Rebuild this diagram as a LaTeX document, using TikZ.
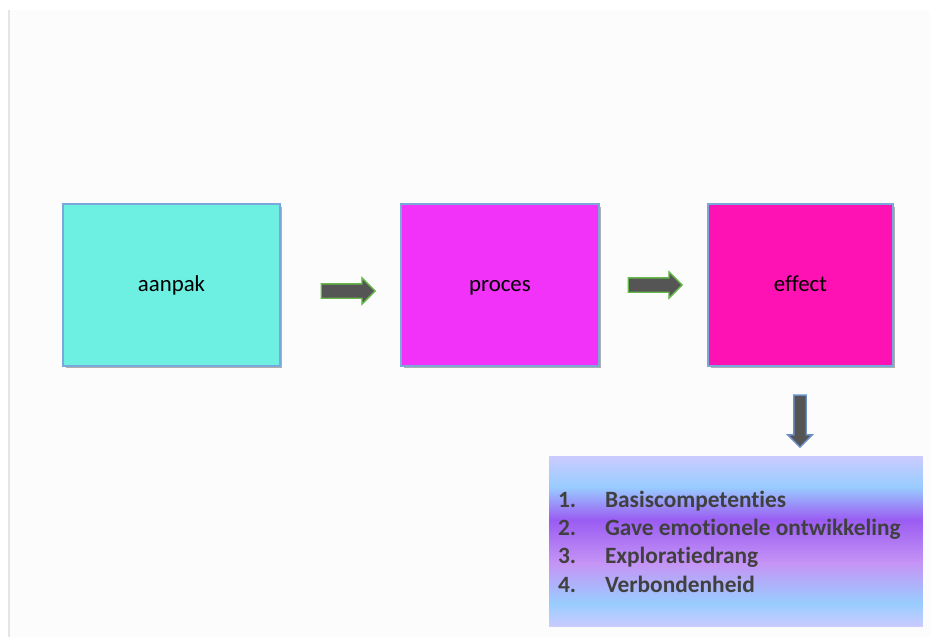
\documentclass[tikz,border=0pt]{standalone}
\usepackage{fontspec}
\setmainfont[Ligatures={NoCommon,NoRequired,NoContextual,NoRare}]{Carlito}
\usepackage{tikz}
\usepackage{xcolor}
\usetikzlibrary{shapes.arrows, positioning, shadows}
\definecolor{turquoise}{RGB}{109,240,226}
\definecolor{procesmagenta}{RGB}{242,50,248}
\definecolor{effectpink}{RGB}{255,18,179}
\definecolor{boxline}{RGB}{123,167,218}
\definecolor{arrowgray}{RGB}{85,85,85}
\definecolor{arrowgreen}{RGB}{102,184,74}
\definecolor{arrowblue}{RGB}{106,144,200}
\definecolor{listgray}{RGB}{64,64,64}
\definecolor{lavender}{RGB}{203,203,255}
\definecolor{skyblue}{RGB}{153,204,255}
\definecolor{violet}{RGB}{154,92,242}
\definecolor{lilac}{RGB}{197,148,245}
\pgfdeclareverticalshading{listshade}{100bp}{color(0bp)=(lavender); color(25bp)=(lavender);
  color(32bp)=(skyblue); color(43.7bp)=(lilac); color(56.3bp)=(violet);
  color(66bp)=(skyblue); color(75bp)=(lavender); color(100bp)=(lavender)}

\begin{document}
\begin{tikzpicture}[x=0.02cm, y=-0.02cm,
    stagebox/.style={draw=boxline, line width=0.6pt, minimum height=3.24cm,
      font=\fontsize{13}{16}\selectfont, text height=10.5pt, text depth=3pt,
      drop shadow={shadow xshift=0.05cm, shadow yshift=-0.05cm, fill=black, opacity=0.3}},
    rightarrow/.style={single arrow, fill=arrowgray, draw=arrowgreen, line width=0.8pt,
      inner xsep=0pt, inner ysep=0.13cm, minimum height=1.08cm, minimum width=0.5cm,
      single arrow head extend=0.12cm},
    listbox/.style={shading=listshade, minimum width=7.48cm, minimum height=3.42cm,
      text width=7.12cm, align=flush left, inner xsep=0.18cm, text=listgray,
      font=\bfseries\fontsize{13.3}{16.1}\selectfont}]
  \useasboundingbox (0,0) rectangle (930,637);
  \fill[black!1] (9,10) rectangle (930,637);
  \draw[black!10, line width=1pt] (9,10) -- (9,637);

  \node[stagebox, fill=turquoise, minimum width=4.34cm] (aanpak) at (171.5,285) {aanpak};
  \node[stagebox, fill=procesmagenta, minimum width=3.96cm, right=2.4cm of aanpak] (proces) {proces};
  \node[stagebox, fill=effectpink, minimum width=3.7cm, right=2.16cm of proces] (effect) {effect};

  \node[rightarrow, right=0.8cm of aanpak, yshift=-0.12cm] (pijl1) {};
  \node[rightarrow, right=0.56cm of proces] (pijl2) {};
  \node[rightarrow, draw=arrowblue, shape border rotate=270, inner sep=0.11cm,
    minimum height=1.04cm, minimum width=0.44cm] (pijl3) at (800,418) {};

  \node[listbox] (uitkomst) at (736,541.5) {%
    \makebox[0.94cm][l]{1.}Basiscompetenties\\
    \makebox[0.94cm][l]{2.}Gave emotionele ontwikkeling\\
    \makebox[0.94cm][l]{3.}Exploratiedrang\\
    \makebox[0.94cm][l]{4.}Verbondenheid};
\end{tikzpicture}
\end{document}
